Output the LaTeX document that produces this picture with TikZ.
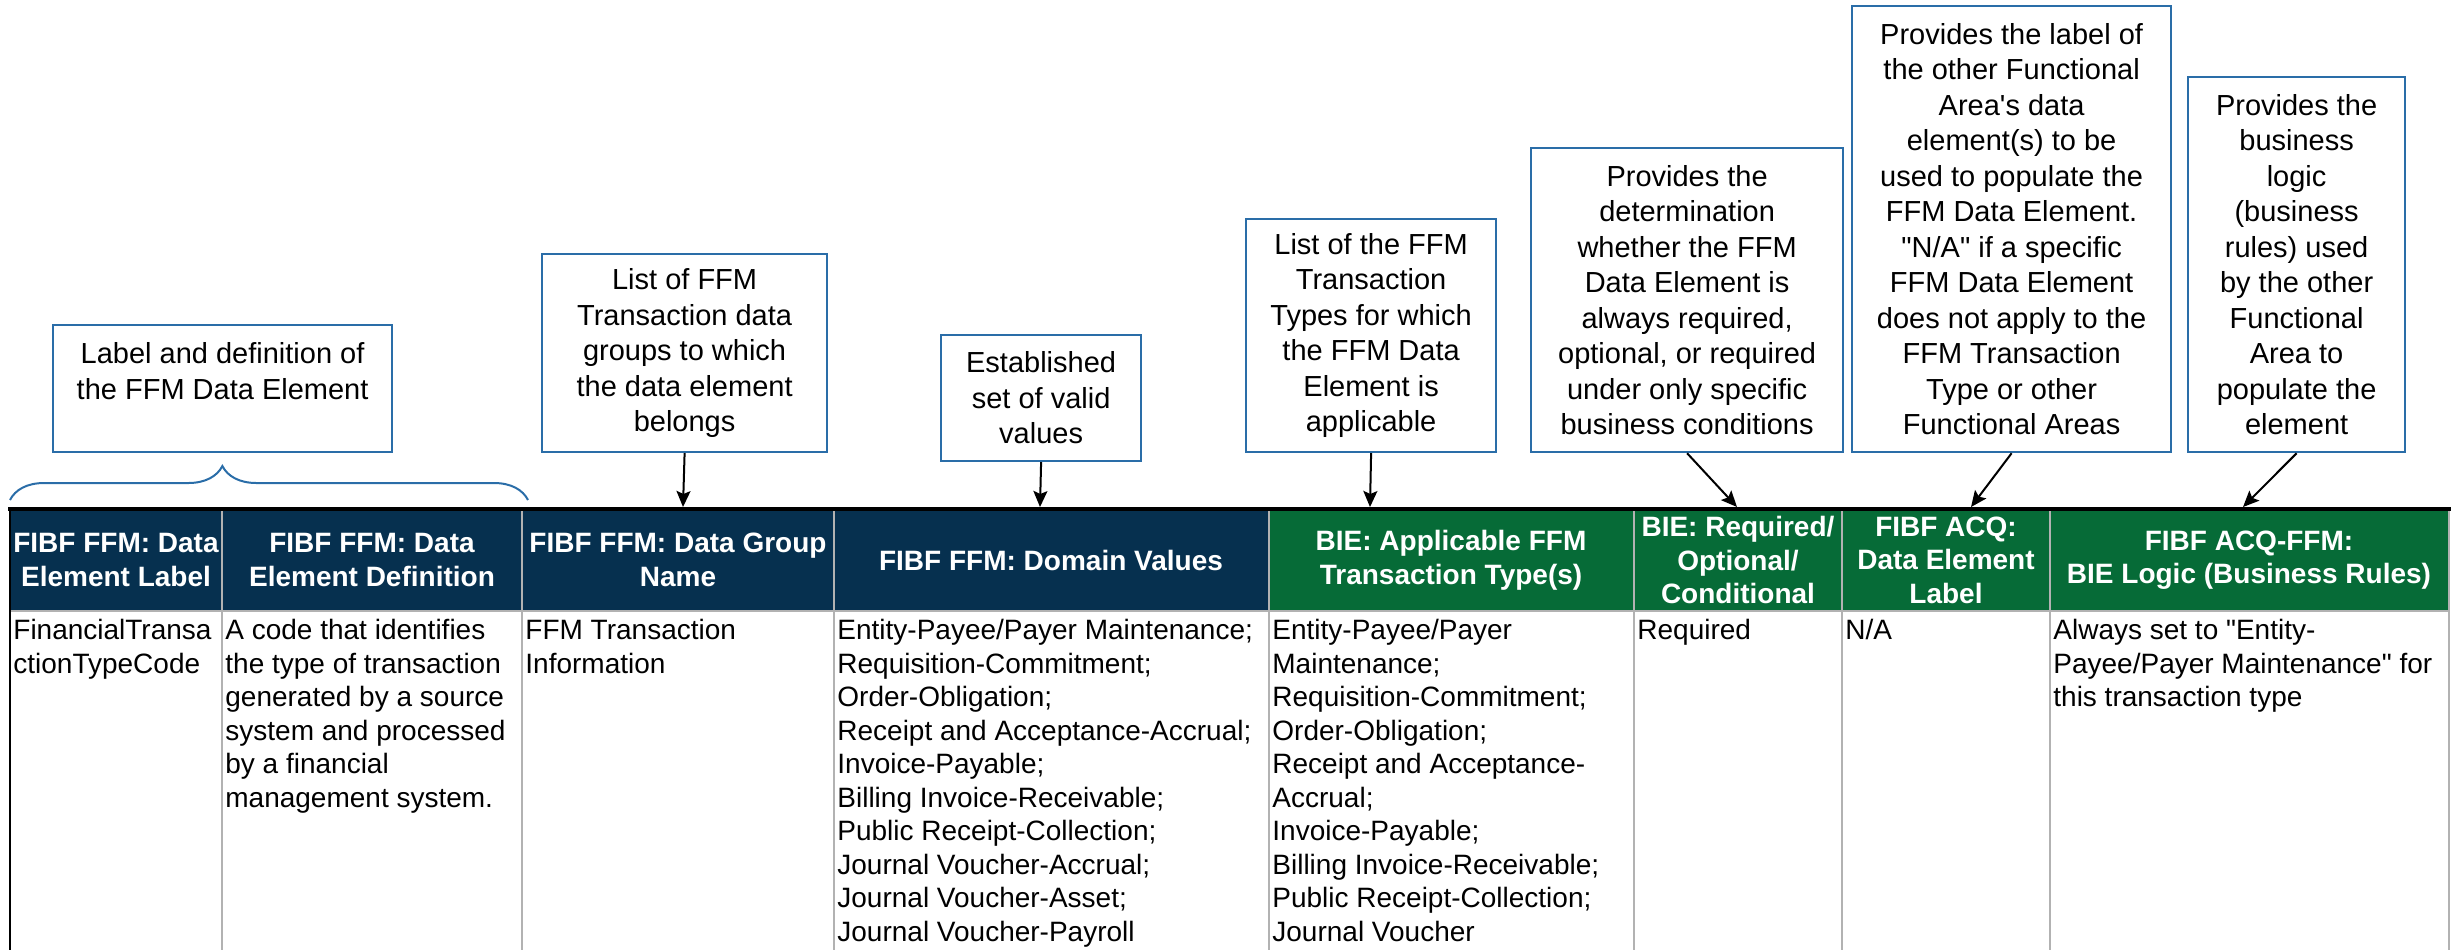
\documentclass[tikz,border=0pt]{standalone}
\usepackage{fontspec}
\setmainfont{Liberation Sans}[Ligatures=TeXOff]
\usetikzlibrary{arrows.meta, decorations.pathreplacing}
\definecolor{navy}{HTML}{06304F}
\definecolor{ffmgreen}{HTML}{066B37}
\definecolor{boxblue}{HTML}{2A6DA8}

\begin{document}
\begin{tikzpicture}
[>={Stealth[length=8pt, width=7pt, inset=1.5pt]}, x=0.5pt, y=-0.5pt,
callout/.style={draw=boxblue, line width=1.1pt, align=center, anchor=north west, inner sep=0, font=\fontsize{14.5}{17.75}\selectfont},
head/.style={text=white, align=center, inner sep=0, font=\fontsize{14}{16.75}\selectfont\bfseries},
cell/.style={anchor=north west, align=left, inner sep=0, font=\fontsize{14}{16.75}\selectfont},
gridline/.style={draw=gray!60, line width=0.6pt}]
\useasboundingbox (0, 0) rectangle (2453, 950);
\fill [navy] (10, 509) rectangle (1269, 611);
\fill [ffmgreen] (1269, 509) rectangle (2449, 611);
\draw [gridline] (10, 611) -- (2449, 611);
\draw [gridline] (222, 509) -- (222, 950);
\draw [gridline] (522, 509) -- (522, 950);
\draw [gridline] (834, 509) -- (834, 950);
\draw [gridline] (1269, 509) -- (1269, 950);
\draw [gridline] (1634, 509) -- (1634, 950);
\draw [gridline] (1842, 509) -- (1842, 950);
\draw [gridline] (2050, 509) -- (2050, 950);
\draw [gridline] (2449, 509) -- (2449, 950);
\draw [line width=1pt] (10, 509) -- (10, 950);
\draw [line width=2pt] (8, 509) -- (2451, 509);
\node (h1) [head] at (116, 560) {FIBF FFM: Data\\Element Label};
\node (h2) [head] at (372, 560) {FIBF FFM: Data\\Element Definition};
\node (h3) [head] at (678, 560) {FIBF FFM: Data Group\\Name};
\node (h4) [head] at (1051, 560) {FIBF FFM: Domain Values};
\node (h5) [head] at (1451, 560) {BIE: Applicable FFM\\Transaction Type(s)};
\node (h6) [head] at (1738, 560) {BIE: Required/\\Optional/\\Conditional};
\node (h7) [head] at (1946, 560) {FIBF ACQ:\\Data Element\\Label};
\node (h8) [head] at (2249, 560) {FIBF ACQ-FFM:\\BIE Logic (Business Rules)};
\node (d1) [cell] at (13, 619) {FinancialTransa\\ctionTypeCode};
\node (d2) [cell] at (225, 619) {A code that identifies\\the type of transaction\\generated by a source\\system and processed\\by a financial\\management system.};
\node (d3) [cell] at (525, 619) {FFM Transaction\\Information};
\node (d4) [cell] at (837, 619) {Entity-Payee/Payer Maintenance;\\Requisition-Commitment;\\Order-Obligation;\\Receipt and Acceptance-Accrual;\\Invoice-Payable;\\Billing Invoice-Receivable;\\Public Receipt-Collection;\\Journal Voucher-Accrual;\\Journal Voucher-Asset;\\Journal Voucher-Payroll};
\node (d5) [cell] at (1272, 619) {Entity-Payee/Payer\\Maintenance;\\Requisition-Commitment;\\Order-Obligation;\\Receipt and Acceptance-\\Accrual;\\Invoice-Payable;\\Billing Invoice-Receivable;\\Public Receipt-Collection;\\Journal Voucher};
\node (d6) [cell] at (1637, 619) {Required};
\node (d7) [cell] at (1845, 619) {N/A};
\node (d8) [cell] at (2053, 619) {Always set to "Entity-\\Payee/Payer Maintenance" for\\this transaction type};
\node (lbl) [callout, minimum width=169.5pt, minimum height=63.5pt] at (52, 324) {Label and definition of\\the FFM Data Element\\~};
\node (grp) [callout, minimum width=142.5pt, minimum height=99pt] at (541, 253) {List of FFM\\Transaction data\\groups to which\\the data element\\belongs};
\node (dom) [callout, minimum width=100pt, minimum height=63pt] at (940, 334) {Established\\set of valid\\values};
\node (typ) [callout, minimum width=125pt, minimum height=116.5pt] at (1245, 218) {List of the FFM\\Transaction\\Types for which\\the FFM Data\\Element is\\applicable};
\node (req) [callout, minimum width=156pt, minimum height=152pt] at (1530, 147) {Provides the\\determination\\whether the FFM\\Data Element is\\always required,\\optional, or required\\under only specific\\business conditions};
\node (acq) [callout, minimum width=159.5pt, minimum height=223pt] at (1851, 5) {Provides the label of\\the other Functional\\Area's data\\element(s) to be\\used to populate the\\FFM Data Element.\\"N/A" if a specific\\FFM Data Element\\does not apply to the\\FFM Transaction\\Type or other\\Functional Areas};
\node (logic) [callout, minimum width=108.5pt, minimum height=187.5pt] at (2187, 76) {Provides the\\business\\logic\\(business\\rules) used\\by the other\\Functional\\Area to\\populate the\\element};
\draw [boxblue, line width=1pt, decorate, decoration={brace, amplitude=17pt, aspect=0.41}] (10, 500) -- (528, 500);
\coordinate (t1) at (683, 507);
\coordinate (t2) at (1040, 507);
\coordinate (t3) at (1370, 507);
\coordinate (t4) at (1737, 507);
\coordinate (t5) at (1971, 507);
\coordinate (t6) at (2243, 507);
\path (grp.south) edge [->, line width=1pt] (t1);
\path (dom.south) edge [->, line width=1pt] (t2);
\path (typ.south) edge [->, line width=1pt] (t3);
\path (req.south) edge [->, line width=1pt] (t4);
\path (acq.south) edge [->, line width=1pt] (t5);
\path (logic.south) edge [->, line width=1pt] (t6);
\end{tikzpicture}
\end{document}
